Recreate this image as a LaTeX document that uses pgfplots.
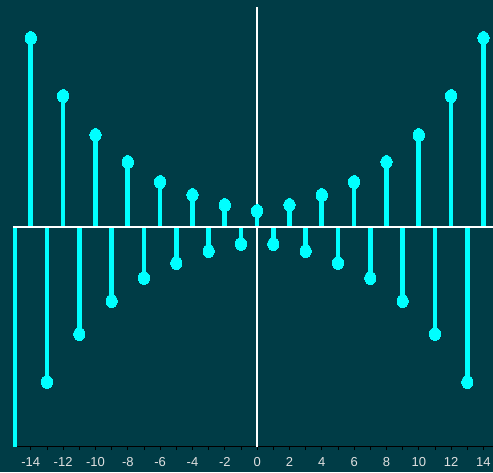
\documentclass[border=0pt]{standalone}
\usepackage{pgfplots}
\pgfplotsset{compat=1.18}
\usepackage{fontspec}
\setmainfont{Liberation Sans}
\definecolor{bg}{HTML}{003C46}
\definecolor{stemc}{HTML}{00FFFF}
\begin{document}
\begin{tikzpicture}[x=1pt,y=1pt]
\fill[bg] (-13,-26) rectangle (480,446);
\useasboundingbox (-13,-26) rectangle (480,446);
\begin{axis}[
  at={(0,0)}, anchor=south west,
  width=480pt, height=438pt, scale only axis,
  xmin=-15.1, xmax=14.59, ymin=-219, ymax=219,
  axis x line*=bottom, axis y line=none,
  axis line style={black, line width=1pt},
  xtick={-14,-12,...,14},
  xticklabels={-14,-12,-10,-8,-6,-4,-2,0,2,4,6,8,10,12,14},
  minor x tick num=1,
  tick align=outside,
  major tick length=4pt, minor tick length=4pt,
  tick style={black, line width=0.8pt},
  xticklabel style={font=\fontsize{13}{13}\selectfont, text=white!88!black, yshift=-4pt},
  clip=true,
]
\addplot[white, line width=1.8pt] coordinates {(0,-230) (0,230)};
\addplot[ycomb, stemc, line width=4.6pt, mark=*, mark size=5.6pt,
  mark options={yscale=1.15, fill=stemc, draw=stemc, line width=0pt}]
  coordinates {
  (-15,-235) (-14,189) (-13,-155) (-12,131) (-11,-107) (-10,92) (-9,-74) (-8,65)
  (-7,-51) (-6,45) (-5,-36) (-4,32) (-3,-24) (-2,22) (-1,-17) (0,16)
  (1,-17) (2,22) (3,-24) (4,32) (5,-36) (6,45) (7,-51) (8,65)
  (9,-74) (10,92) (11,-107) (12,131) (13,-155) (14,189) (15,235)
  };
\addplot[white, line width=1.8pt] coordinates {(-16,0) (16,0)};
\end{axis}
\end{tikzpicture}
\end{document}
